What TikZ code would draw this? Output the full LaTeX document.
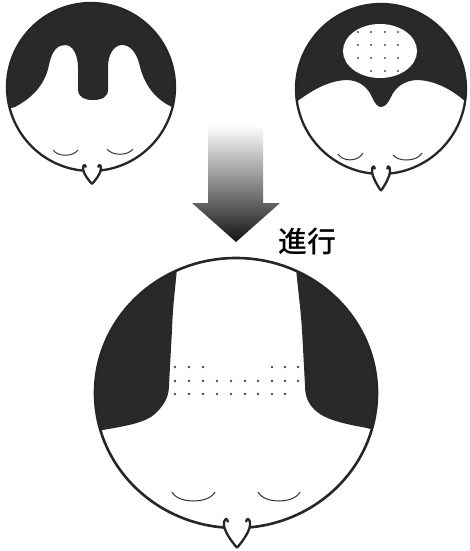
\documentclass[tikz,border=0pt]{standalone}
\usepackage{fontspec}
\newfontfamily\jpfont{Noto Sans CJK JP Medium}

% nose drawn below a head, local origin at the bottom of the head outline
\newcommand{\headnose}[4]{%
  \begin{scope}[shift={(#1,#2)},xscale=#3,yscale=#4]
    \fill[white] (-6.3,-4) .. controls (-6.6,-6.5) and (-9,-6.5) .. (-9,-2)
      .. controls (-8.5,3) and (-3,9) .. (-1,11.3) .. controls (0,12.4) .. (1,11.3)
      .. controls (3,9) and (8.5,3) .. (9,-2) .. controls (9,-6.5) and (6.6,-6.5) .. (6.3,-4) -- cycle;
    \draw[outline] (-6.3,-4) .. controls (-6.6,-6.5) and (-9,-6.5) .. (-9,-2)
      .. controls (-8.5,3) and (-3,9) .. (-1,11.3) .. controls (0,12.4) .. (1,11.3)
      .. controls (3,9) and (8.5,3) .. (9,-2) .. controls (9,-6.5) and (6.6,-6.5) .. (6.3,-4);
  \end{scope}}

\begin{document}
\begin{tikzpicture}[x=1pt,y=-1pt,
    outline/.style={black!85,line width=2.3pt,line join=round,line cap=round},
    hair/.style={fill=black!84},
    eye/.style={black!80,line width=1pt},
    spot/.style={fill=black!70}]
  \useasboundingbox (0,0) rectangle (470,551);

  % head on the upper left: receding at both temples
  \begin{scope}
    \clip (91,87) circle (84);
    \fill[hair] (-5,112) -- (15,107) .. controls (32,98) and (45,85) .. (49,65)
      .. controls (52,50) and (58,45) .. (65,45) .. controls (73,45) and (78,55) .. (78,68)
      -- (78,90) .. controls (79,98) and (85,100) .. (93,100) .. controls (102,100) and (108,97) .. (108,90)
      -- (108,67) .. controls (108,53) and (115,45) .. (122,45) .. controls (130,45) and (136,52) .. (139,63)
      .. controls (144,85) and (155,99) .. (172,107) -- (190,112) -- (190,-10) -- (-5,-10) -- cycle;
  \end{scope}
  \draw[outline] (91,87) circle (84);
  \draw[eye] (53,150) .. controls (58,157) and (73,157) .. (78,150);
  \draw[eye] (107,149) .. controls (112,156) and (128,156) .. (133,149);
  \headnose{92}{171}{1}{1.05}

  % head on the upper right: thinning at the crown
  \begin{scope}
    \clip (381,89) circle (85);
    \fill[hair] (285,108) -- (295,103) .. controls (312,90) and (328,81) .. (346,80)
      .. controls (360,80) and (368,88) .. (372,97) .. controls (375,104) and (378,107) .. (381,107)
      .. controls (385,107) and (388,103) .. (391,97) .. controls (395,88) and (404,80) .. (418,80)
      .. controls (438,81) and (455,92) .. (467,103) -- (480,108) -- (480,-10) -- (285,-10) -- cycle;
  \end{scope}
  \fill[white] (380,51) ellipse [x radius=37,y radius=27];
  \foreach \y in {32,45,58} {
    \foreach \x in {358,371,385,398}
      \fill[spot] (\x,\y) circle (1.2);
  }
  \foreach \x in {371,385,398}
    \fill[spot] (\x,71) circle (1.2);
  \draw[outline] (381,89) circle (85);
  \draw[eye] (338,154) .. controls (343,162) and (358,162) .. (363,153);
  \draw[eye] (393,155) .. controls (398,162) and (417,162) .. (422,153);
  \headnose{381}{174}{1}{1.35}

  % arrow and caption
  \shade[top color=white,bottom color=black!92]
    (208,125) -- (263,125) -- (263,203) -- (280,203) -- (236,242)
    -- (192,203) -- (208,203) -- cycle;
  \node[font=\jpfont\fontsize{29}{30}\selectfont] (progress) at (307,241) {進行};

  % large head below
  \begin{scope}
    \clip (236,393) ellipse [x radius=141,y radius=135];
    \fill[hair] (80,435) -- (103,430) .. controls (125,426) and (146,423) .. (156,413)
      .. controls (166,403) and (169,395) .. (169,385) -- (172,330)
      .. controls (173,300) and (176,285) .. (178,255) -- (80,240) -- cycle;
    \fill[hair] (390,435) -- (367,428) .. controls (345,424) and (326,420) .. (316,411)
      .. controls (307,403) and (305,395) .. (305,385) -- (302,330)
      .. controls (300,300) and (297,285) .. (295,255) -- (390,240) -- cycle;
  \end{scope}
  \foreach \x in {175,189,203,272,285,298}
    \fill[spot] (\x,367) circle (1.3);
  \foreach \x in {175,189,203,217,231,245,258,272,285,298}
    \fill[spot] (\x,381) circle (1.3);
  \foreach \x in {175,189,203,217,231,245,258,272,285}
    \fill[spot] (\x,394) circle (1.3);
  \draw[outline,line width=2.6pt] (236,393) ellipse [x radius=141,y radius=135];
  \draw[eye] (172,492) .. controls (178,504) and (209,504) .. (215,492);
  \draw[eye] (258,492) .. controls (264,504) and (294,504) .. (300,492);
  \headnose{237}{528}{1.45}{1.6}
\end{tikzpicture}
\end{document}
